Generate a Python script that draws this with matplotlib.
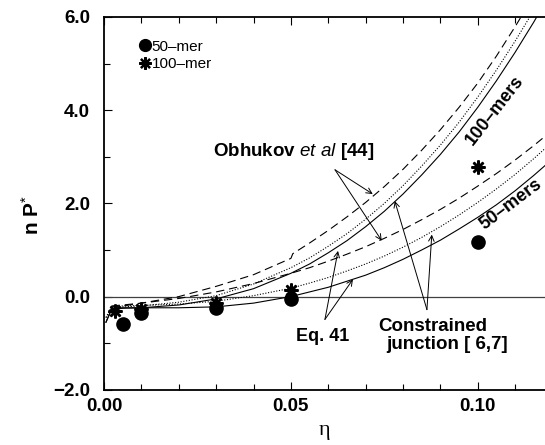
import matplotlib
matplotlib.use('Agg')
import matplotlib.pyplot as plt
from matplotlib.lines import Line2D

plt.rcParams['font.family'] = ['Liberation Sans', 'DejaVu Sans']
plt.rcParams['mathtext.fontset'] = 'custom'
plt.rcParams['mathtext.rm'] = 'Liberation Sans'
plt.rcParams['mathtext.bf'] = 'Liberation Sans:bold'
plt.rcParams['mathtext.it'] = 'Liberation Sans:italic'
plt.rcParams['lines.scale_dashes'] = False

# simulation points
eta_50 = [0.005, 0.01, 0.03, 0.05, 0.10]
nP_50 = [-0.58, -0.36, -0.24, -0.06, 1.18]
eta_100 = [0.003, 0.01, 0.03, 0.05, 0.10]
nP_100 = [-0.30, -0.26, -0.13, 0.15, 2.79]

# theory curves
eta_c = [0.0005, 0.002, 0.005, 0.01, 0.02, 0.03, 0.04, 0.05, 0.055, 0.06, 0.065,
         0.07, 0.075, 0.08, 0.085, 0.09, 0.095, 0.10, 0.105, 0.11, 0.115, 0.12]
solid_100 = [-0.55, -0.28, -0.25, -0.24, -0.18, -0.05, 0.17, 0.50, 0.70, 0.94, 1.20,
             1.50, 1.83, 2.20, 2.61, 3.05, 3.53, 4.06, 4.63, 5.24, 5.89, 6.59]
dotted_100 = [-0.45, -0.24, -0.22, -0.20, -0.12, 0.02, 0.27, 0.62, 0.83, 1.08, 1.35,
              1.66, 2.00, 2.38, 2.80, 3.25, 3.74, 4.28, 4.86, 5.48, 6.14, 6.85]
solid_50 = [-0.55, -0.26, -0.24, -0.24, -0.24, -0.22, -0.14, 0.00, 0.10, 0.20, 0.33,
            0.46, 0.62, 0.80, 1.00, 1.21, 1.45, 1.70, 1.97, 2.27, 2.60, 2.95]
dotted_50 = [-0.45, -0.22, -0.20, -0.19, -0.16, -0.10, 0.02, 0.18, 0.29, 0.41, 0.55,
             0.70, 0.87, 1.06, 1.27, 1.50, 1.75, 2.02, 2.31, 2.62, 2.96, 3.32]

eta_d100 = [0.002, 0.005, 0.01, 0.02, 0.03, 0.04, 0.05, 0.0505, 0.055, 0.06, 0.065,
            0.07, 0.075, 0.08, 0.085, 0.09, 0.095, 0.10, 0.105, 0.11, 0.115]
dashed_100 = [-0.22, -0.20, -0.14, 0.00, 0.22, 0.47, 0.82, 0.92, 1.15, 1.42, 1.71,
              2.02, 2.36, 2.73, 3.14, 3.58, 4.06, 4.58, 5.16, 5.79, 6.45]
eta_d50 = [0.002, 0.005, 0.01, 0.02, 0.03, 0.04, 0.05, 0.055, 0.06, 0.065, 0.07,
           0.075, 0.08, 0.085, 0.09, 0.095, 0.10, 0.105, 0.11, 0.115, 0.12]
dashed_50 = [-0.20, -0.18, -0.14, -0.04, 0.10, 0.28, 0.50, 0.62, 0.76, 0.91, 1.07,
             1.25, 1.44, 1.65, 1.87, 2.11, 2.37, 2.64, 2.93, 3.24, 3.57]

fig = plt.figure(figsize=(5.45, 4.45), dpi=100)
ax = fig.add_axes([0.191, 0.124, 0.809, 0.838])

dash = (0, (6, 3.5))
dot = (0, (0.8, 1.2))
ax.axhline(0, color='0.25', lw=0.9)
ax.plot(eta_d100, dashed_100, color='black', lw=0.8, linestyle=dash)
ax.plot(eta_c, dotted_100, color='black', lw=0.8, linestyle=dot)
ax.plot(eta_c, solid_100, color='black', lw=0.8)
ax.plot(eta_d50, dashed_50, color='black', lw=0.8, linestyle=dash)
ax.plot(eta_c, dotted_50, color='black', lw=0.8, linestyle=dot)
ax.plot(eta_c, solid_50, color='black', lw=0.8)

ax.plot(eta_50, nP_50, 'o', color='black', ms=9.5, linestyle='none', zorder=5)
ax.plot(eta_100, nP_100, marker=(8, 2, 0), color='black', ms=10, mew=1.8,
        linestyle='none', zorder=5)

ax.set_xlim(0, 0.118)
ax.set_ylim(-2.0, 6.0)
ax.set_xticks([0.0, 0.05, 0.10])
ax.set_xticklabels(['0.00', '0.05', '0.10'])
ax.set_xticks([0.01 * i for i in range(12)], minor=True)
ax.set_yticks([-2, 0, 2, 4, 6])
ax.set_yticklabels(['\u22122.0', '0.0', '2.0', '4.0', '6.0'])
ax.set_yticks([-1, 1, 3, 5], minor=True)
ax.tick_params(which='both', direction='in', top=True, right=False, width=0.8)
ax.tick_params(which='major', length=6, labelsize=13.5)
ax.tick_params(axis='x', which='major', pad=6)
ax.tick_params(axis='y', which='major', pad=10)
ax.tick_params(which='minor', length=4)
for lab in ax.get_xticklabels() + ax.get_yticklabels():
    lab.set_fontweight('bold')
for s in ['left', 'top', 'bottom']:
    ax.spines[s].set_linewidth(1.3)
ax.spines['right'].set_visible(False)

ax.set_xlabel('\u03b7', family='Liberation Serif', fontsize=16, labelpad=4)
ax.set_ylabel(r'$\mathbf{n\ P}^{*}$', fontsize=15)
ax.yaxis.set_label_coords(-0.14, 0.47)

handles = [Line2D([], [], marker='o', color='black', ms=8.5, linestyle='none'),
           Line2D([], [], marker=(8, 2, 0), color='black', ms=9, mew=1.6, linestyle='none')]
ax.legend(handles, ['50\u2013mer', '100\u2013mer'], loc='upper left',
          bbox_to_anchor=(0.058, 0.968), frameon=False, fontsize=11,
          handlelength=0.6, handletextpad=0.15, labelspacing=0.25, borderpad=0.2)

arr = dict(arrowstyle='->', color='black', lw=0.7, shrinkA=0, shrinkB=0)
ax.text(0.0508, 3.11, r'$\mathbf{Obhukov}$ $\mathit{et\ al}$ $\mathbf{[44]}$',
        fontsize=13.5, ha='center', va='center')
ax.annotate('', xy=(0.0719, 2.20), xytext=(0.0618, 2.72), arrowprops=arr)
ax.annotate('', xy=(0.0743, 1.20), xytext=(0.0618, 2.72), arrowprops=arr)

ax.text(0.0586, -0.86, 'Eq. 41', fontsize=13, fontweight='bold', ha='center', va='center')
ax.annotate('', xy=(0.0626, 0.98), xytext=(0.0591, -0.49), arrowprops=arr)
ax.annotate('', xy=(0.0666, 0.37), xytext=(0.0591, -0.49), arrowprops=arr)

ax.text(0.0880, -0.64, 'Constrained', fontsize=13.5, fontweight='bold',
        ha='center', va='center')
ax.text(0.0917, -1.03, 'junction [ 6,7]', fontsize=13.5, fontweight='bold',
        ha='center', va='center')
ax.annotate('', xy=(0.0778, 2.05), xytext=(0.0864, -0.28), arrowprops=arr)
ax.annotate('', xy=(0.0877, 1.33), xytext=(0.0864, -0.28), arrowprops=arr)

ax.text(0.1045, 4.0, '100\u2013mers', fontsize=13, fontweight='bold', rotation=52,
        ha='center', va='center', rotation_mode='anchor')
ax.text(0.1088, 1.97, '50\u2013mers', fontsize=13, fontweight='bold', rotation=37,
        ha='center', va='center', rotation_mode='anchor')

fig.savefig('out.png', dpi=100)
